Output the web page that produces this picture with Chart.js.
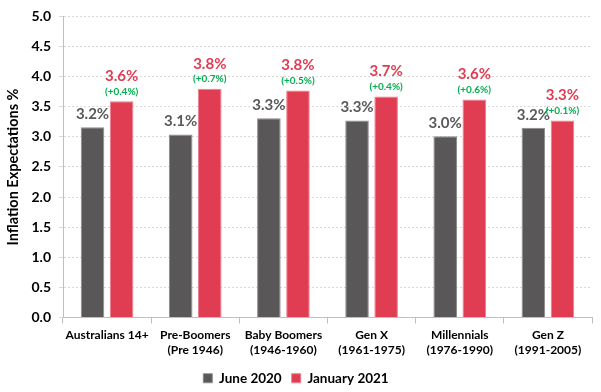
<!DOCTYPE html>
<html>
<head>
<meta charset="utf-8">
<script src="https://cdn.jsdelivr.net/npm/chart.js@4.4.1/dist/chart.umd.min.js"></script>
<style>
  html, body { margin: 0; padding: 0; background: #fff; }
  #wrap { width: 601px; height: 392px; }
</style>
</head>
<body>
<div id="wrap"><canvas id="myChart"></canvas></div>
<script>
const categories = [
  ["Australians 14+"],
  ["Pre-Boomers", "(Pre 1946)"],
  ["Baby Boomers", "(1946-1960)"],
  ["Gen X", "(1961-1975)"],
  ["Millennials", "(1976-1990)"],
  ["Gen Z", "(1991-2005)"],
];
const june2020 = [3.16, 3.04, 3.31, 3.27, 3.01, 3.15];
const jan2021 = [3.59, 3.8, 3.77, 3.67, 3.62, 3.27];
const juneLabels = ["3.2%", "3.1%", "3.3%", "3.3%", "3.0%", "3.2%"];
const janLabels = ["3.6%", "3.8%", "3.8%", "3.7%", "3.6%", "3.3%"];
const changeLabels = ["(+0.4%)", "(+0.7%)", "(+0.5%)", "(+0.4%)", "(+0.6%)", "(+0.1%)"];

const FONT = "Lato, 'Open Sans', sans-serif";

// draws the value labels above each bar
const barLabels = {
  id: "barLabels",
  afterDatasetsDraw(chart) {
    const c = chart.ctx;
    c.save();
    c.textAlign = "center";
    c.textBaseline = "middle";
    chart.getDatasetMeta(0).data.forEach(function (bar, i) {
      c.font = "bold 15px " + FONT;
      c.fillStyle = "#595959";
      c.fillText(juneLabels[i], bar.x, bar.y - 13);
    });
    chart.getDatasetMeta(1).data.forEach(function (bar, i) {
      c.font = "bold 15px " + FONT;
      c.fillStyle = "#E03C52";
      c.fillText(janLabels[i], bar.x, bar.y - 25);
      c.font = "bold 10px " + FONT;
      c.fillStyle = "#00B050";
      c.fillText(changeLabels[i], bar.x, bar.y - 10);
    });
    c.restore();
  },
};

const ctx = document.getElementById("myChart");

var chart = new Chart(ctx, {
  type: "bar",
  data: {
    labels: categories,
    datasets: [
      {
        label: "June 2020",
        data: june2020,
        backgroundColor: "#595757",
        borderColor: "#8c8a8a",
        borderWidth: 1,
        categoryPercentage: 0.66,
        barPercentage: 0.81,
      },
      {
        label: "January 2021",
        data: jan2021,
        backgroundColor: "#E03C52",
        borderColor: "#f07c8c",
        borderWidth: 1,
        categoryPercentage: 0.66,
        barPercentage: 0.81,
      },
    ],
  },
  options: {
    responsive: true,
    maintainAspectRatio: false,
    animation: false,
    layout: { padding: { top: 6, right: 9, left: 0, bottom: -3 } },
    plugins: {
      tooltip: { enabled: false },
      legend: {
        position: "bottom",
        labels: {
          boxWidth: 9,
          boxHeight: 9,
          padding: 10,
          color: "#000",
          font: { family: FONT, size: 13.5, weight: "bold", lineHeight: 1 },
        },
      },
    },
    scales: {
      y: {
        min: 0,
        max: 5,
        afterFit: function (s) { s.width = 63; },
        ticks: {
          stepSize: 0.5,
          padding: 8,
          color: "#000",
          font: { family: FONT, size: 14, weight: "bold" },
          callback: function (v) { return v.toFixed(1); },
        },
        grid: {
          color: "#d9d9d9",
          tickLength: 4,
          tickColor: "#d9d9d9",
        },
        border: { color: "#bfbfbf", dash: [2, 2] },
        title: {
          display: true,
          text: "Inflation Expectations %",
          color: "#000",
          padding: { top: 5, bottom: 0 },
          font: { family: FONT, size: 14.5, weight: "bold" },
        },
      },
      x: {
        ticks: {
          color: "#000",
          padding: 4,
          maxRotation: 0,
          minRotation: 0,
          autoSkip: false,
          font: { family: FONT, size: 12, weight: "bold", lineHeight: 1.25 },
        },
        grid: {
          drawOnChartArea: false,
          tickLength: 6,
          color: "#bfbfbf",
        },
        border: { color: "#bfbfbf" },
      },
    },
  },
  plugins: [barLabels],
});
</script>
</body>
</html>
